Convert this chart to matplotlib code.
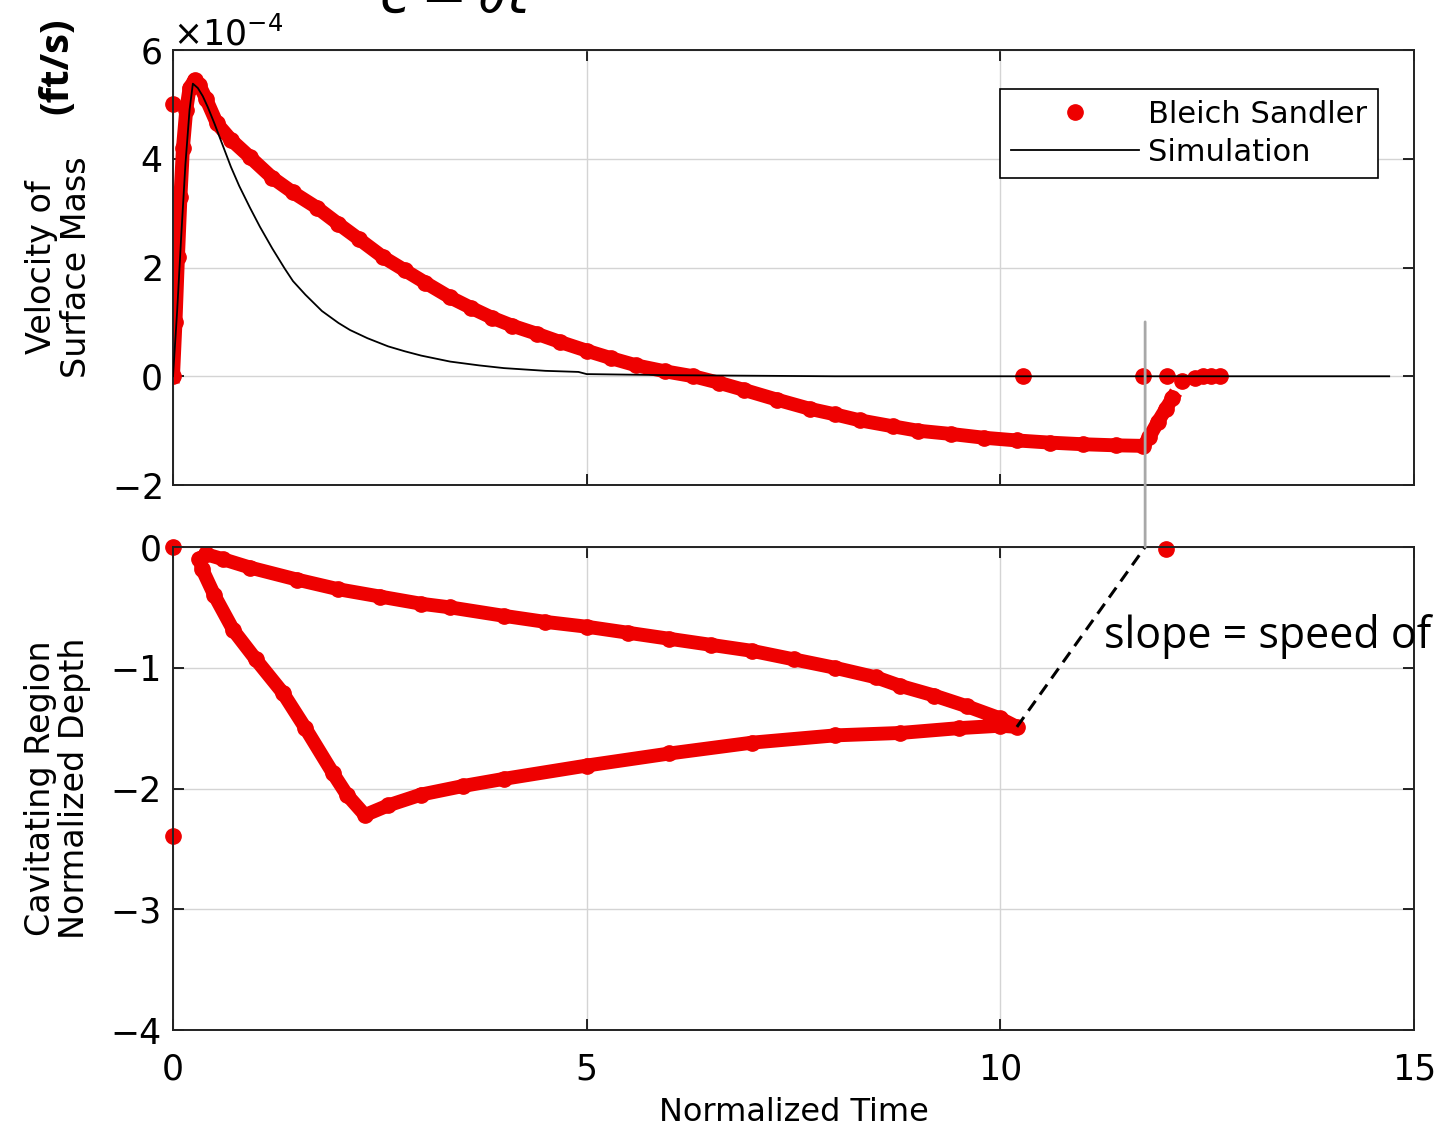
import numpy as np
import matplotlib.pyplot as plt
from matplotlib.ticker import ScalarFormatter
from matplotlib.patches import ConnectionPatch

# Velocity of surface mass, Bleich Sandler (time, velocity in 1e-4 ft/s)
bs_t = [0.0, 0.03, 0.06, 0.09, 0.12, 0.16, 0.2, 0.26, 0.32, 0.4, 0.53, 0.7, 0.93, 1.2,
        1.45, 1.74, 2.0, 2.25, 2.54, 2.8, 3.05, 3.35, 3.6, 3.85, 4.1, 4.4, 4.68, 5.0,
        5.3, 5.6, 5.95, 6.29, 6.6, 6.9, 7.3, 7.7, 8.0, 8.3, 8.7, 9.0, 9.4, 9.8, 10.2,
        10.6, 11.0, 11.4, 11.73, 11.8, 11.9, 12.0, 12.08]
bs_v = [0.0, 1.0, 2.2, 3.3, 4.2, 4.9, 5.3, 5.45, 5.35, 5.1, 4.65, 4.35, 4.03, 3.65,
        3.38, 3.1, 2.8, 2.52, 2.19, 1.95, 1.72, 1.45, 1.26, 1.08, 0.93, 0.78, 0.63, 0.47,
        0.33, 0.2, 0.09, 0.0, -0.12, -0.25, -0.43, -0.6, -0.7, -0.81, -0.92, -1.0, -1.06,
        -1.13, -1.18, -1.22, -1.25, -1.27, -1.28, -1.12, -0.85, -0.6, -0.4]
# stray points
bs_extra_t = [0.0, 10.27, 11.72, 12.02, 12.2, 12.35, 12.45, 12.55, 12.65]
bs_extra_v = [5.0, 0.0, 0.0, 0.0, -0.08, -0.03, 0.0, 0.0, 0.0]

# Simulation
sim_t = [0.0, 0.05, 0.1, 0.15, 0.2, 0.24, 0.3, 0.36, 0.42, 0.5, 0.6, 0.7, 0.8, 0.93,
         1.05, 1.2, 1.35, 1.45, 1.6, 1.8, 2.0, 2.14, 2.35, 2.6, 2.8, 3.0, 3.35, 3.7,
         4.0, 4.5, 4.9, 5.0, 5.5, 6.0, 7.0, 8.0, 10.0, 12.0, 14.7]
sim_v = [0.0, 1.2, 2.6, 3.9, 4.9, 5.38, 5.3, 5.15, 4.95, 4.65, 4.25, 3.85, 3.5, 3.1,
         2.75, 2.35, 1.98, 1.75, 1.5, 1.2, 0.98, 0.85, 0.7, 0.55, 0.46, 0.38, 0.27, 0.2,
         0.15, 0.1, 0.08, 0.04, 0.03, 0.02, 0.01, 0.0, 0.0, 0.0, 0.0]

# Cavitating region depth (closed loop)
cav_t = [0.4, 0.6, 0.93, 1.5, 2.0, 2.5, 3.0, 3.35, 4.0, 4.5, 5.0, 5.5, 6.0, 6.5, 7.0,
         7.5, 8.0, 8.5, 8.79, 9.2, 9.6, 10.0, 10.2,
         10.0, 9.5, 8.79, 8.0, 7.0, 6.0, 5.0, 4.0, 3.5, 3.0, 2.6, 2.32,
         2.1, 1.93, 1.6, 1.33, 1.0, 0.73, 0.5, 0.35, 0.32, 0.4]
cav_d = [-0.06, -0.1, -0.17, -0.27, -0.35, -0.41, -0.47, -0.5, -0.57, -0.62, -0.66,
         -0.71, -0.76, -0.81, -0.86, -0.93, -1.0, -1.08, -1.15, -1.23, -1.32, -1.42, -1.49,
         -1.48, -1.5, -1.54, -1.56, -1.62, -1.71, -1.81, -1.92, -1.98, -2.05, -2.14, -2.22,
         -2.05, -1.87, -1.5, -1.21, -0.93, -0.69, -0.4, -0.18, -0.1, -0.06]
cav_extra_t = [0.0, 0.0, 12.0]
cav_extra_d = [0.0, -2.39, -0.02]

slope_t = [10.2, 11.75]
slope_d = [-1.49, 0.0]

red = '#ee0000'
plt.rcParams['font.family'] = 'DejaVu Sans'

fig = plt.figure(figsize=(14.37, 11.33), dpi=100)
ax1 = fig.add_axes([0.1204, 0.5719, 0.8636, 0.3840])
ax2 = fig.add_axes([0.1204, 0.0909, 0.8636, 0.4263])

scale = 1e-4
ax1.plot(np.array(bs_t), np.array(bs_v) * scale, color=red, lw=10,
         solid_joinstyle='round', zorder=2)
ax1.plot(np.array(bs_t), np.array(bs_v) * scale, 'o', color=red, ms=11, zorder=2)
ax1.plot(np.array(bs_extra_t), np.array(bs_extra_v) * scale, 'o', color=red, ms=11,
         zorder=2, clip_on=False, label='Bleich Sandler')
ax1.plot(np.array(sim_t), np.array(sim_v) * scale, color='black', lw=1.3, zorder=3,
         label='Simulation')

ax2.plot(cav_t, cav_d, color=red, lw=10, solid_joinstyle='round', zorder=2)
ax2.plot(cav_t, cav_d, 'o', color=red, ms=11, zorder=2)
ax2.plot(cav_extra_t, cav_extra_d, 'o', color=red, ms=11, zorder=2, clip_on=False)
ax2.plot(slope_t, slope_d, '--', color='black', lw=2.2, dashes=(4, 2.5), zorder=3, clip_on=False)
ax2.text(11.25, -0.745, 'slope = speed of', fontsize=31, family='Open Sans',
         va='center', ha='left', clip_on=False)

for ax in (ax1, ax2):
    ax.set_xlim(0, 15)
    ax.set_xticks([0, 5, 10, 15])
    ax.grid(True, color='#d4d4d4', lw=1)
    ax.set_axisbelow(True)
    ax.tick_params(direction='in', length=8, width=1.2, top=True, right=True,
                   labelsize=25, pad=8)
    ax.tick_params(axis='x', pad=16)
    for s in ax.spines.values():
        s.set_linewidth(1.4)
        s.set_color('#222222')

ax1.set_ylim(-2e-4, 6e-4)
ax1.set_yticks([-2e-4, 0, 2e-4, 4e-4, 6e-4])
fmt = ScalarFormatter(useMathText=True)
fmt.set_powerlimits((0, 0))
ax1.yaxis.set_major_formatter(fmt)
ax1.yaxis.get_offset_text().set_fontsize(25)
ax1.tick_params(labelbottom=False)

ax2.set_ylim(-4, 0)
ax2.set_yticks([-4, -3, -2, -1, 0])
ax2.set_yticklabels(['\u22124', '\u22123', '\u22122', '\u22121', '0'])

ax1.set_ylabel('Velocity of\nSurface Mass', fontsize=24, labelpad=14, linespacing=1.05)
ax2.set_ylabel('Cavitating Region\nNormalized Depth', fontsize=24, labelpad=14, linespacing=1.05)
ax2.set_xlabel('Normalized Time', fontsize=23, labelpad=8)

leg = ax1.legend(loc='upper right', bbox_to_anchor=(0.971, 0.910), borderaxespad=0,
                 fontsize=22, frameon=True, fancybox=False, edgecolor='black',
                 handlelength=4.2, borderpad=0.35, labelspacing=0.3, handletextpad=0.3,
                 markerfirst=True, framealpha=1)
leg.get_frame().set_linewidth(1.2)

con = ConnectionPatch(xyA=(11.75, 1.0e-4), coordsA=ax1.transData,
                      xyB=(11.75, 0.0), coordsB=ax2.transData,
                      color='#a8a8a8', lw=2)
fig.add_artist(con)

fig.text(57 / 1437, 1 - 66 / 1133, '(ft/s)', rotation=90, fontsize=29,
         fontweight='bold', family='Open Sans', va='center', ha='center')
fig.text(455 / 1437, 1 - 12 / 1133, r'$c = \partial t$', fontsize=40,
         va='baseline', ha='center')

fig.savefig('out.png', dpi=100)
